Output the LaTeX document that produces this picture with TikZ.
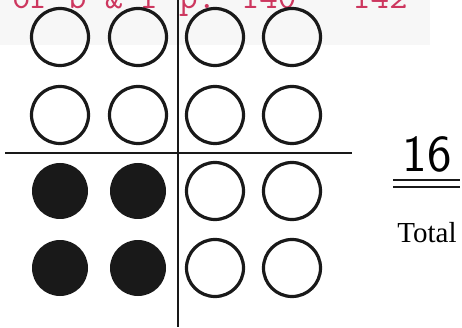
\documentclass[tikz,border=0pt]{standalone}
\usepackage{fontspec}
\usepackage{tikz}
\usetikzlibrary{positioning}
\newfontfamily\labelfont{Liberation Serif}
\definecolor{notered}{RGB}{205,55,95}
\definecolor{dotblack}{RGB}{25,25,25}

\begin{document}
\begin{tikzpicture}[x=1pt,y=-1pt,
    emptydot/.style={circle,draw=dotblack,line width=3.2pt,minimum size=57pt,inner sep=0pt},
    fulldot/.style={circle,fill=dotblack,minimum size=56pt,inner sep=0pt}]
        \useasboundingbox (0,0) rectangle (462,328);
        \fill[black!3] (0,0) rectangle (430,45);
        % clipped note at the top
        \node[anchor=base west,inner sep=0pt,font=\ttfamily\fontsize{36}{36}\selectfont,text=notered] (note) at (12,9) {or b \& r p. 140 - 142};
        % top half
        \node[emptydot] (a1) at (60,37)  {};
        \node[emptydot] (a2) at (138,37) {};
        \node[emptydot] (a3) at (215,37) {};
        \node[emptydot] (a4) at (292,37) {};
        \node[emptydot] (b1) at (60,115)  {};
        \node[emptydot] (b2) at (138,115) {};
        \node[emptydot] (b3) at (215,115) {};
        \node[emptydot] (b4) at (292,115) {};
        % bottom half
        \node[fulldot]  (c1) at (60,191)  {};
        \node[fulldot]  (c2) at (138,191) {};
        \node[emptydot] (c3) at (215,191) {};
        \node[emptydot] (c4) at (292,191) {};
        \node[fulldot]  (d1) at (60,268)  {};
        \node[fulldot]  (d2) at (138,268) {};
        \node[emptydot] (d3) at (215,268) {};
        \node[emptydot] (d4) at (292,268) {};
        % dividing lines
        \draw[dotblack,line width=1.6pt] (178,0) -- (178,327);
        \draw[dotblack,line width=1.6pt] (5,153) -- (352,153);
        % total
        \node[font=\sffamily\fontsize{52}{52}\selectfont,anchor=base] (count) at (427,172) {16};
        \draw[dotblack,line width=2pt] (393,180) -- (460,180);
        \draw[dotblack,line width=2pt] (393,187) -- (460,187);
        \node[font=\labelfont\fontsize{29}{29}\selectfont,anchor=base] (total) at (427,242) {Total};
      \end{tikzpicture}
\end{document}
